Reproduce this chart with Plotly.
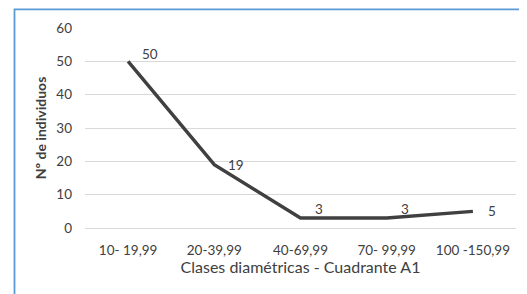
import plotly.graph_objects as go

categories = ["10- 19,99", "20-39,99", "40-69,99", "70- 99,99", "100 -150,99"]
values = [50, 19, 3, 3, 5]
label_shifts = [(22, 7), (22, 0), (18, 9), (18, 9), (19, 0)]

# page body adds an 8px offset
OFF = 8
W, H = 527, 294
ml, mr, mt, mb = 85 - OFF, 11 + OFF, 24 - OFF, 66 + OFF
pw, ph = W - ml - mr, H - mt - mb

FONT = "Lato, Open Sans, sans-serif"

fig = go.Figure()
fig.add_trace(go.Scatter(
    x=categories, y=values, mode="lines",
    line=dict(color="#404040", width=3.4),
    showlegend=False,
))

for c, v, (dx, dy) in zip(categories, values, label_shifts):
    fig.add_annotation(x=c, y=v, text=str(v), showarrow=False,
                       xshift=dx, yshift=dy,
                       font=dict(family=FONT, size=13.5, color="#404040"))

def px(x):
    return (x - OFF - ml) / pw

def py(y):
    return 1 - (y - OFF - mt) / ph

fig.add_shape(type="rect", xref="paper", yref="paper",
              x0=px(14.5), x1=px(560), y0=py(330), y1=py(5),
              line=dict(color="#5B9BD5", width=1.8), layer="below")

fig.update_layout(
    width=W, height=H,
    margin=dict(l=ml, r=mr, t=mt, b=mb),
    paper_bgcolor="white", plot_bgcolor="white",
    font=dict(family=FONT, size=13, color="#404040"),
    xaxis=dict(
        type="category", range=[-0.5, 4.5], showgrid=False, zeroline=False, showline=False,
        ticks="", ticklabelstandoff=12, tickfont=dict(size=13.5, color="#404040"),
        title=dict(text="Clases diamétricas - Cuadrante A1",
                   font=dict(size=16, color="#404040"), standoff=2),
    ),
    yaxis=dict(
        range=[0, 60], dtick=10, showgrid=True, gridcolor="#D9D9D9", gridwidth=1.3,
        zeroline=True, zerolinecolor="#D9D9D9", zerolinewidth=1.3,
        ticks="", ticklabelstandoff=12, tickfont=dict(size=13.5, color="#404040"),
        title=dict(text="<b>Nº de individuos</b>",
                   font=dict(size=14, color="#404040"), standoff=6),
    ),
)

fig.write_html("out.html")
